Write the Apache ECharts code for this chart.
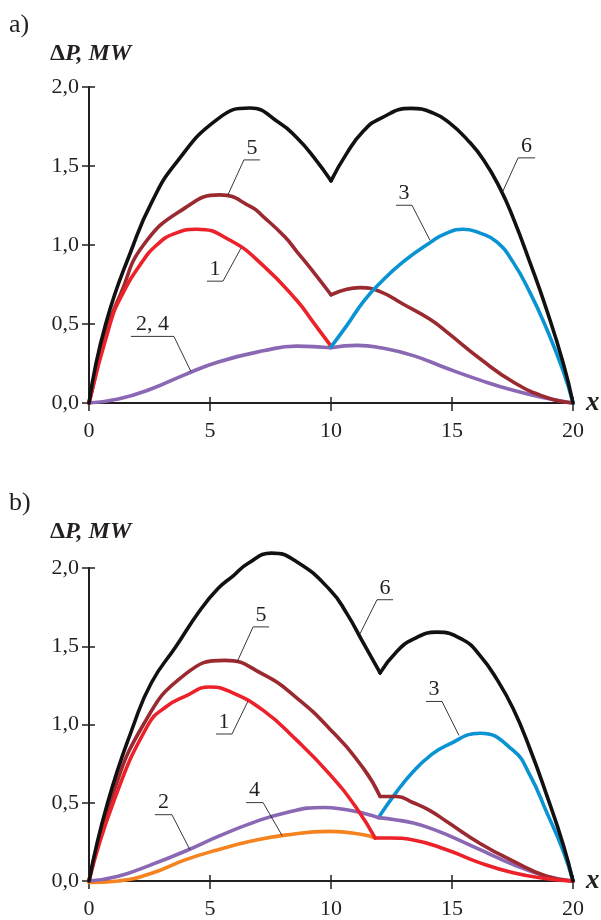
<!DOCTYPE html>
<html><head><meta charset="utf-8">
<script src="https://cdn.jsdelivr.net/npm/echarts@6/dist/echarts.min.js"></script>
<style>html,body{margin:0;padding:0;background:#fff}#c{width:601px;height:920px}</style>
</head><body><div id="c"></div>
<script>
// ---------- data ----------
const xTickValues = [0, 5, 10, 15, 20];
const yTickValues = [0, 0.5, 1, 1.5, 2];
const yTickLabels = ['0,0', '0,5', '1,0', '1,5', '2,0'];

// chart a)
const a_curve6_left  = [[0,0],[0.69,0.5],[1.83,1.0],[2.59,1.27],[3.55,1.51],[5.34,1.8],[6.65,1.867],[7.89,1.77],[8.58,1.68],[9.27,1.56],[10,1.406]];
const a_curve6_right = [[10,1.406],[10.65,1.58],[11.33,1.72],[12.03,1.80],[13.3,1.865],[14.23,1.835],[14.92,1.77],[15.61,1.67],[16.3,1.54],[16.98,1.36],[17.53,1.17],[18.22,0.89],[18.91,0.59],[19.6,0.25],[20,0]];
const a_curve5_left  = [[0,0],[0.82,0.5],[1.28,0.68],[2.25,1.0],[3.97,1.235],[5.41,1.317],[6.72,1.24],[7.2,1.18],[8.1,1.05],[8.58,0.96],[9.27,0.83],[10,0.685]];
const a_curve5_right = [[10,0.685],[10.65,0.72],[11.2,0.73],[12.03,0.705],[12.99,0.625],[14.09,0.53],[14.78,0.45],[16.16,0.28],[17.53,0.133],[18.91,0.035],[20,0]];
const a_curve1       = [[0,0],[0.87,0.5],[1.35,0.68],[2.18,0.89],[2.8,1.0],[3.5,1.07],[4.45,1.10],[5.83,1.03],[7.2,0.87],[8.58,0.65],[9.27,0.51],[10,0.36]];
const a_curve3       = [[10,0.355],[10.65,0.49],[11.33,0.64],[12.03,0.76],[12.99,0.895],[14.09,1.015],[14.78,1.075],[15.47,1.10],[16.16,1.075],[16.85,1.02],[17.53,0.89],[18.22,0.70],[18.91,0.47],[19.6,0.2],[20,0]];
const a_curve24_left = [[0,0],[1.21,0.025],[2.59,0.09],[3.97,0.18],[5.34,0.26],[7.2,0.33],[8.58,0.36],[10,0.35]];
const a_curve24_right= [[10,0.35],[11.1,0.365],[12.03,0.35],[13.4,0.30],[14.78,0.22],[16.16,0.145],[17.53,0.08],[18.91,0.03],[20,0]];

// chart b)
const b_curve6_left  = [[0,0],[0.77,0.5],[1.85,1.0],[2.59,1.27],[3.6,1.5],[4.59,1.73],[5.34,1.87],[5.96,1.95],[6.58,2.03],[7.55,2.095],[8.58,2.04],[9.96,1.86],[10.65,1.71],[11.34,1.52],[12.03,1.33]];
const b_curve6_right = [[12.03,1.33],[12.71,1.465],[13.4,1.545],[14.37,1.59],[15.47,1.54],[16.16,1.44],[16.85,1.29],[17.53,1.10],[18.22,0.845],[18.91,0.55],[19.6,0.23],[20,0]];
const b_curve5_left  = [[0,0],[0.87,0.5],[2.25,1.0],[3.97,1.32],[5.62,1.41],[7.2,1.32],[8.58,1.17],[9.96,0.97],[11.34,0.72],[12.03,0.54]];
const b_curve5_right = [[12.03,0.54],[12.71,0.54],[13.4,0.50],[14.09,0.45],[14.78,0.38],[16.16,0.24],[17.53,0.127],[18.91,0.03],[20,0]];
const b_curve1_left  = [[0,0],[1.0,0.5],[2.45,1.0],[3.2,1.115],[3.97,1.18],[5.0,1.24],[5.83,1.21],[7.2,1.09],[8.58,0.90],[9.96,0.68],[11.06,0.465],[11.82,0.275]];
const b_curve1_right = [[11.82,0.275],[12.44,0.275],[13.4,0.262],[14.78,0.20],[16.16,0.116],[17.53,0.053],[18.91,0.015],[20,0]];
const b_curve4       = [[0,-0.01],[1.21,0.0],[2.59,0.05],[3.97,0.135],[5.34,0.2],[6.72,0.255],[8.1,0.293],[9.96,0.317],[11.34,0.296],[11.82,0.275]];
const b_curve2_left  = [[0,0],[1.21,0.03],[2.59,0.105],[3.97,0.19],[5.34,0.285],[6.72,0.37],[8.1,0.435],[9.68,0.47],[10.65,0.455],[11.34,0.433],[11.96,0.405]];
const b_curve2_right = [[11.96,0.405],[12.71,0.39],[13.4,0.37],[14.09,0.338],[14.78,0.296],[16.16,0.20],[17.53,0.105],[18.91,0.03],[20,0]];
const b_curve3       = [[11.96,0.405],[12.71,0.57],[13.4,0.70],[14.09,0.80],[14.78,0.866],[16.16,0.944],[17.53,0.834],[18.22,0.676],[18.91,0.44],[19.6,0.19],[20,0]];

// callout labels: text and the curve point they point to
const calloutTextsA = ['5', '1', '2, 4', '3', '6'];
const calloutPointsA = [[5.74,1.317],[6.28,0.98],[4.21,0.2],[14.09,1.03],[17.07,1.33]];
const calloutTextsB = ['5', '1', '2', '4', '6', '3'];
const calloutPointsB = [[6.12,1.40],[6.57,1.15],[4.17,0.2],[7.98,0.29],[11.2,1.58],[15.29,0.93]];

// ---------- styling / layout ----------
const FONT = 'Liberation Serif, Times New Roman, Times, serif';
const INK = '#231f20';
const C = {black:'#111111', brown:'#9b2a30', red:'#ec2129', blue:'#0a93d3', purple:'#8b68b3', orange:'#f5831f'};
// callout geometry (pixels): leader offset and underline length
const calloutGeomA = [[16,-35,16],[-18,33,-16],[-17,-35,-43],[-18,-35,-16],[16,-35,17]];
const calloutGeomB = [[16,-35,16],[-16,33,-16],[-18,-35,-17],[-19,-33,-17],[17,-34,16],[-17,-34,-16]];

const chart = echarts.init(document.getElementById('c'), null, {renderer:'canvas'});

const grids = [
  {left:89, width:484, top:87, height:316},
  {left:89, width:484, top:568, height:315}
];

function xAxesFor(gi){
  return [{
    gridIndex:gi, type:'value', min:0, max:20, interval:5, position:'bottom',
    axisLine:{show:true, onZero:false, lineStyle:{color:INK, width:2}},
    axisTick:{show:true, length:8, lineStyle:{color:INK, width:1.5}},
    axisLabel:{fontFamily:FONT, fontSize:22, color:INK, margin:17,
      formatter:v=> xTickValues.indexOf(v) >= 0 ? String(v) : ''},
    splitLine:{show:false},
    name:'x', nameLocation:'end', nameGap:13,
    nameTextStyle:{fontFamily:FONT, fontSize:27, fontStyle:'italic', fontWeight:'bold', color:INK, verticalAlign:'middle', padding:[0,0,6,0]}
  },{
    gridIndex:gi, type:'value', min:0, max:20, interval:5, position:'bottom',
    axisLine:{show:false, onZero:false},
    axisTick:{show:true, inside:true, length:6, lineStyle:{color:INK, width:1.5}},
    axisLabel:{show:false}, splitLine:{show:false}
  }];
}
function yAxesFor(gi){
  return [{
    gridIndex:gi, type:'value', min:0, max:2, interval:0.5, position:'left',
    axisLine:{show:true, onZero:false, lineStyle:{color:INK, width:2}},
    axisTick:{show:true, length:7, lineStyle:{color:INK, width:1.5}},
    axisLabel:{fontFamily:FONT, fontSize:22, color:INK, margin:10,
      formatter:v=>{const i=yTickValues.findIndex(t=>Math.abs(t-v)<1e-9); return i>=0?yTickLabels[i]:'';}},
    splitLine:{show:false}
  },{
    gridIndex:gi, type:'value', min:0, max:2, interval:0.5, position:'left',
    axisLine:{show:false, onZero:false},
    axisTick:{show:true, inside:true, length:6, lineStyle:{color:INK, width:1.5}},
    axisLabel:{show:false}, splitLine:{show:false}
  }];
}

function line(gi, data, color, z){
  return {type:'line', xAxisIndex:gi*2, yAxisIndex:gi*2, data:data, smooth:0.5,
    symbol:'none', silent:true, clip:false, z:z,
    lineStyle:{color:color, width:3.6, cap:'round', join:'round'}};
}

const series = [
  // a)
  line(0, a_curve24_left, C.purple, 2), line(0, a_curve24_right, C.purple, 2),
  line(0, a_curve5_left, C.brown, 3), line(0, a_curve5_right, C.brown, 3),
  line(0, a_curve1, C.red, 4), line(0, a_curve3, C.blue, 5),
  line(0, a_curve6_left, C.black, 6), line(0, a_curve6_right, C.black, 6),
  // b)
  line(1, b_curve4, C.orange, 1),
  line(1, b_curve3, C.blue, 2),
  line(1, b_curve2_left, C.purple, 3), line(1, b_curve2_right, C.purple, 3),
  line(1, b_curve5_left, C.brown, 4), line(1, b_curve5_right, C.brown, 4),
  line(1, b_curve1_left, C.red, 5), line(1, b_curve1_right, C.red, 5),
  line(1, b_curve6_left, C.black, 6), line(1, b_curve6_right, C.black, 6)
];

chart.setOption({
  backgroundColor:'#ffffff',
  animation:false,
  grid:grids,
  xAxis:[...xAxesFor(0), ...xAxesFor(1)],
  yAxis:[...yAxesFor(0), ...yAxesFor(1)],
  series:series
});

// ---------- annotations ----------
const g = [];
function titleText(x, y, txt, size){
  g.push({type:'text', silent:true, style:{x:x, y:y, text:txt, fill:INK, font:size+'px '+FONT, verticalAlign:'middle', align:'left'}});
}
titleText(9, 25, 'a)', 26);
titleText(9, 503, 'b)', 26);
function axisTitle(x, y){
  g.push({type:'text', silent:true, style:{x:x, y:y, fill:INK, verticalAlign:'middle', align:'left',
    text:'{d|Δ}{p|P, MW}',
    rich:{d:{fontFamily:FONT, fontSize:24, fontWeight:'bold', fill:INK},
          p:{fontFamily:FONT, fontSize:24, fontWeight:'bold', fontStyle:'italic', fill:INK}}}});
}
axisTitle(50, 54);
axisTitle(50, 532);

function callouts(gi, texts, points, geom){
  texts.forEach((t,i)=>{
    const p = chart.convertToPixel({xAxisIndex:gi*2, yAxisIndex:gi*2}, points[i]);
    const [dx, dy, len] = geom[i];
    const ex = p[0]+dx, ey = p[1]+dy;
    g.push({type:'line', silent:true, z:20, shape:{x1:p[0], y1:p[1], x2:ex, y2:ey}, style:{stroke:INK, lineWidth:0.9}});
    g.push({type:'line', silent:true, z:20, shape:{x1:ex, y1:ey, x2:ex+len, y2:ey}, style:{stroke:INK, lineWidth:0.9}});
    g.push({type:'text', silent:true, z:20, style:{x:ex+len/2, y:ey-1, text:t, fill:INK, font:'22px '+FONT, align:'center', verticalAlign:'bottom'}});
  });
}
callouts(0, calloutTextsA, calloutPointsA, calloutGeomA);
callouts(1, calloutTextsB, calloutPointsB, calloutGeomB);

chart.setOption({graphic:g});
</script></body></html>
